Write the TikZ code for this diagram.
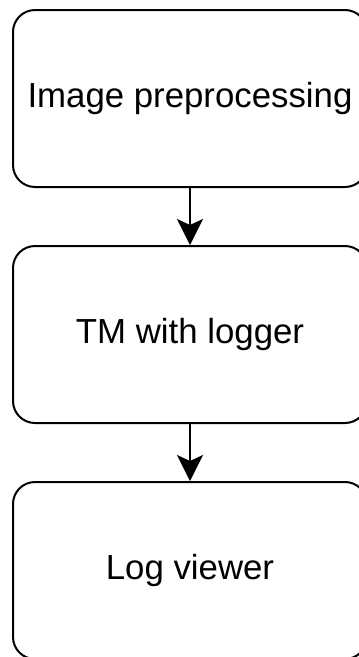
\documentclass[tikz,border=0pt]{standalone}
\usepackage{fontspec}
\setmainfont{Liberation Sans}
\usetikzlibrary{arrows.meta}
\begin{document}
\begin{tikzpicture}[x=1pt,y=-1pt,
  stepbox/.style={draw=black,line width=2pt,rounded corners=22pt,minimum width=354pt,minimum height=177pt,inner sep=0pt,font=\fontsize{34.8pt}{40pt}\selectfont},
  conn/.style={draw=black,line width=2pt,-{Stealth[length=26pt,width=26pt,inset=6pt]}}]
\useasboundingbox (0,0) rectangle (359,657);
\node[stepbox] (a) at (190,98.5) {Image preprocessing};
\node[stepbox] (b) at (190,334.5) {TM with logger};
\node[stepbox] (c) at (190,570.5) {Log viewer};
\draw[conn] (a.south) -- (b.north);
\draw[conn] (b.south) -- (c.north);
\end{tikzpicture}
\end{document}
